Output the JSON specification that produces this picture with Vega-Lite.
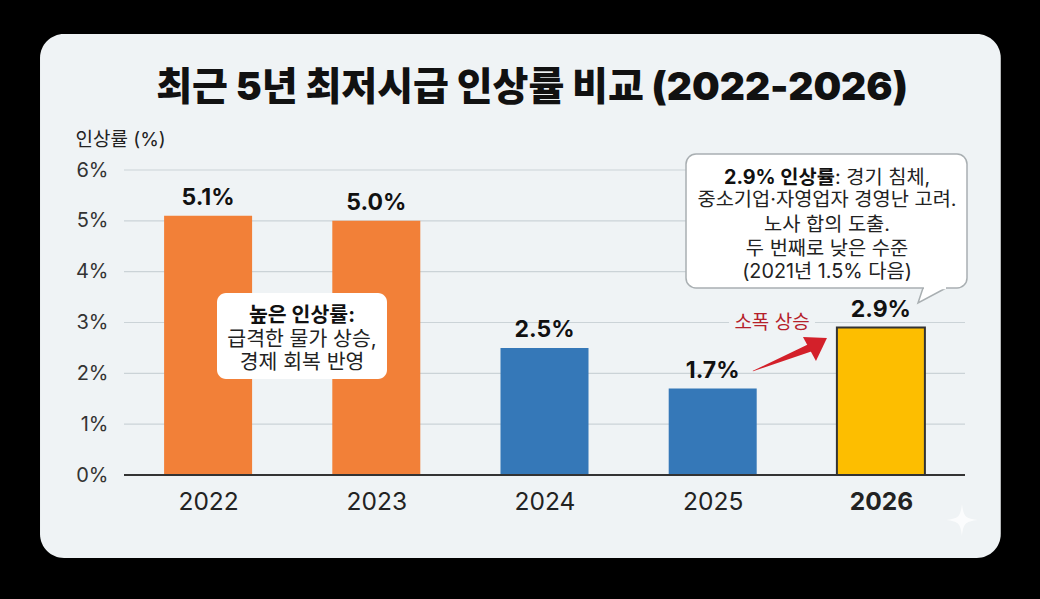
{
  "$schema": "https://vega.github.io/schema/vega-lite/v6.json",
  "width": 841,
  "height": 305,
  "autosize": "none",
  "padding": {"left": 124, "top": 170, "right": 75, "bottom": 124},
  "background": "#000000",
  "view": {"stroke": null},
  "config": {"font": "Inter, Noto Sans CJK KR"},
  "encoding": {
    "x": {
      "field": "x",
      "type": "quantitative",
      "scale": {"domain": [2021.5, 2026.5], "nice": false, "zero": false, "padding": 0},
      "axis": {
        "title": null,
        "values": [2022, 2023, 2024, 2025, 2026],
        "format": "d",
        "grid": false,
        "ticks": false,
        "domain": false,
        "labelFontSize": 24.5,
        "labelColor": "#222222",
        "labelPadding": 15,
        "labelFontWeight": {"condition": {"test": "datum.value == 2026", "value": "bold"}, "value": "normal"},
        "zindex": 1
      }
    },
    "y": {
      "field": "y",
      "type": "quantitative",
      "stack": null,
      "scale": {"domain": [0, 6], "nice": false},
      "axis": {
        "title": "인상률 (%)",
        "titleAngle": 0,
        "titleX": -49,
        "titleY": -21,
        "titleAlign": "left",
        "titleFontSize": 19,
        "titleFontWeight": "normal",
        "titleColor": "#222222",
        "values": [0, 1, 2, 3, 4, 5, 6],
        "labelExpr": "datum.value + '%'",
        "grid": false,
        "ticks": false,
        "domain": false,
        "labelFontSize": 20,
        "labelColor": "#333333",
        "labelPadding": 16,
        "zindex": 1
      }
    }
  },
  "layer": [
    {
      "data": {"values": [{"x": 2021.0007, "x2": 2026.7126, "y": -1.633, "y2": 8.676}]},
      "mark": {"type": "rect", "cornerRadius": 24, "fill": "#eff3f5"},
      "encoding": {"x2": {"field": "x2"}, "y2": {"field": "y2"}}
    },
    {
      "data": {"values": [{"x": 2023.9257, "y": 7.613, "t": "최근 5년 최저시급 인상률 비교 (2022-2026)"}]},
      "mark": {"type": "text", "fontSize": 39, "fontWeight": 900, "color": "#111111", "baseline": "middle"},
      "encoding": {"text": {"field": "t"}}
    },
    {
      "data": {"values": [
        {"x": 2021.5, "x2": 2026.5, "y": 1},
        {"x": 2021.5, "x2": 2026.5, "y": 2},
        {"x": 2021.5, "x2": 2026.5, "y": 3},
        {"x": 2021.5, "x2": 2026.5, "y": 4},
        {"x": 2021.5, "x2": 2026.5, "y": 5},
        {"x": 2021.5, "x2": 2026.5, "y": 6}
      ]},
      "mark": {"type": "rule", "stroke": "#cbd3d7", "strokeWidth": 1.2},
      "encoding": {"x2": {"field": "x2"}}
    },
    {
      "data": {"values": [
        {"x": 2022, "y": 5.1, "label": "5.1%", "group": "high"},
        {"x": 2023, "y": 5.0, "label": "5.0%", "group": "high"},
        {"x": 2024, "y": 2.5, "label": "2.5%", "group": "low"},
        {"x": 2025, "y": 1.7, "label": "1.7%", "group": "low"},
        {"x": 2026, "y": 2.9, "label": "2.9%", "group": "now"}
      ]},
      "layer": [
        {
          "mark": {"type": "bar", "orient": "vertical", "width": 88, "strokeWidth": 2},
          "encoding": {
            "color": {
              "field": "group",
              "type": "nominal",
              "scale": {"domain": ["high", "low", "now"], "range": ["#f28038", "#3578b8", "#fdbe00"]},
              "legend": null
            },
            "stroke": {"condition": {"test": "datum.x == 2026", "value": "#333333"}, "value": null}
          }
        },
        {
          "mark": {"type": "text", "dy": -18, "fontSize": 23, "fontWeight": "bold", "color": "#111111", "baseline": "middle"},
          "encoding": {"text": {"field": "label"}}
        }
      ]
    },
    {
      "data": {"values": [{"x": 2021.5, "x2": 2026.5, "y": 0}]},
      "mark": {"type": "rule", "stroke": "#333333", "strokeWidth": 2},
      "encoding": {"x2": {"field": "x2"}}
    },
    {
      "data": {"values": [{"x": 2022.0529, "x2": 2023.0636, "y": 3.58, "y2": 1.889}]},
      "mark": {"type": "rect", "cornerRadius": 9, "fill": "#ffffff"},
      "encoding": {"x2": {"field": "x2"}, "y2": {"field": "y2"}}
    },
    {
      "data": {"values": [{"x": 2022.5583, "y": 3.187, "t": "높은 인상률:"}]},
      "mark": {"type": "text", "dy": 3, "fontSize": 20.5, "fontWeight": "bold", "color": "#111111", "baseline": "middle"},
      "encoding": {"text": {"field": "t"}}
    },
    {
      "data": {"values": [
        {"x": 2022.5583, "y": 2.715, "t": "급격한 물가 상승,"},
        {"x": 2022.5583, "y": 2.262, "t": "경제 회복 반영"}
      ]},
      "mark": {"type": "text", "dy": 3, "fontSize": 20.5, "color": "#222222", "baseline": "middle"},
      "encoding": {"text": {"field": "t"}}
    },
    {
      "data": {"values": [{"x": 2026.3038, "y": 3.541}]},
      "mark": {
        "type": "point",
        "shape": "M -0.875 0.5 L -0.5625 -0.4375 L 0.875 -0.4375 Z",
        "size": 1024,
        "filled": true,
        "fill": "#ffffff",
        "stroke": "#a9afb2",
        "strokeWidth": 1.5,
        "opacity": 1
      }
    },
    {
      "data": {"values": [{"x": 2024.8413, "x2": 2026.5119, "y": 6.315, "y2": 3.679}]},
      "mark": {"type": "rect", "cornerRadius": 10, "fill": "#ffffff", "stroke": "#a9afb2", "strokeWidth": 1.5},
      "encoding": {"x2": {"field": "x2"}, "y2": {"field": "y2"}}
    },
    {
      "data": {"values": [{"x": 2026.256, "x2": 2026.387, "y": 3.679}]},
      "mark": {"type": "rule", "stroke": "#ffffff", "strokeWidth": 2.5},
      "encoding": {"x2": {"field": "x2"}}
    },
    {
      "data": {"values": [{"x": 2025.727, "y": 5.902, "t": "2.9% 인상률"}]},
      "mark": {"type": "text", "dy": 3, "align": "right", "fontSize": 19.8, "fontWeight": "bold", "color": "#111111", "baseline": "middle"},
      "encoding": {"text": {"field": "t"}}
    },
    {
      "data": {"values": [{"x": 2025.727, "y": 5.902, "t": ": 경기 침체,"}]},
      "mark": {"type": "text", "dy": 3, "align": "left", "fontSize": 19.8, "color": "#222222", "baseline": "middle"},
      "encoding": {"text": {"field": "t"}}
    },
    {
      "data": {"values": [
        {"x": 2025.6796, "y": 5.449, "t": "중소기업·자영업자 경영난 고려."},
        {"x": 2025.6796, "y": 4.957, "t": "노사 합의 도출."},
        {"x": 2025.6796, "y": 4.485, "t": "두 번째로 낮은 수준"},
        {"x": 2025.6796, "y": 4.033, "t": "(2021년 1.5% 다음)"}
      ]},
      "mark": {"type": "text", "dy": 2, "fontSize": 19.8, "color": "#222222", "baseline": "middle"},
      "encoding": {"text": {"field": "t"}}
    },
    {
      "data": {"values": [{"x": 2025.097, "x2": 2025.608, "y": 2.85, "y2": 3.2}]},
      "mark": {"type": "rect", "fill": "#eff3f5"},
      "encoding": {"x2": {"field": "x2"}, "y2": {"field": "y2"}}
    },
    {
      "data": {"values": [{"x": 2025.3526, "y": 3.03, "t": "소폭 상승"}]},
      "mark": {"type": "text", "dy": 2, "fontSize": 19, "color": "#b5202a", "baseline": "middle"},
      "encoding": {"text": {"field": "t"}}
    },
    {
      "data": {"values": [
        {"x": 2025.2396, "y": 2.046, "step": 0},
        {"x": 2025.59, "y": 2.518, "step": 1}
      ]},
      "mark": {"type": "trail", "color": "#d3202a"},
      "encoding": {
        "size": {"field": "step", "type": "quantitative", "scale": {"domain": [0, 1], "range": [0.5, 8]}, "legend": null},
        "order": {"field": "step"}
      }
    },
    {
      "data": {"values": [{"x": 2025.608, "y": 2.518}]},
      "mark": {
        "type": "point",
        "shape": "M 0.75 -0.5625 L -0.75 -0.625 L 0.0625 0.875 Z",
        "size": 1024,
        "filled": true,
        "fill": "#d3202a",
        "opacity": 1
      }
    },
    {
      "data": {"values": [{"x": 2026.482, "y": -0.885}]},
      "mark": {
        "type": "point",
        "shape": "M 0 -1 C 0.1 -0.2 0.2 -0.1 1 0 C 0.2 0.1 0.1 0.2 0 1 C -0.1 0.2 -0.2 0.1 -1 0 C -0.2 -0.1 -0.1 -0.2 0 -1 Z",
        "size": 1024,
        "filled": true,
        "fill": "#ffffff",
        "opacity": 0.75
      }
    }
  ]
}
